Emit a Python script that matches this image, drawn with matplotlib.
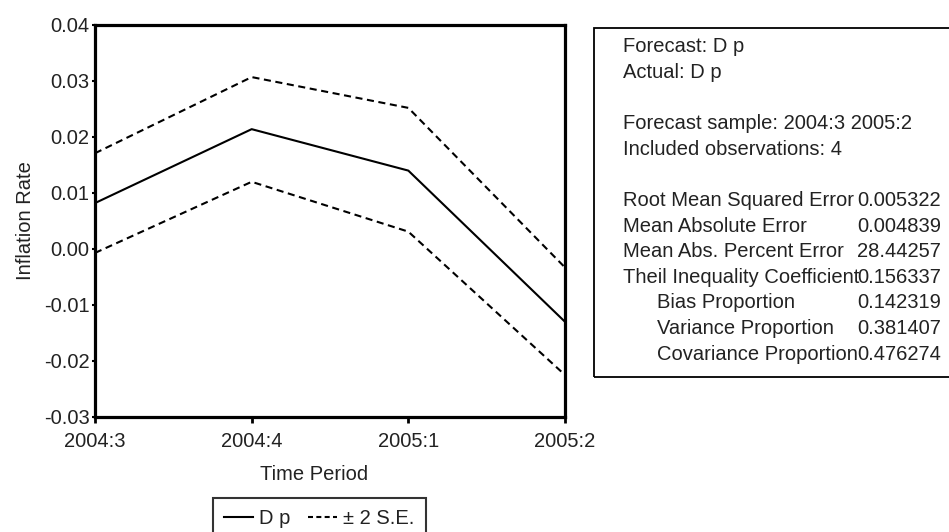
import matplotlib
matplotlib.use("Agg")
import matplotlib.pyplot as plt
from matplotlib.patches import Rectangle
from matplotlib.lines import Line2D

# Forecast of inflation (D p) with +/- 2 standard-error bands
periods = ["2004:3", "2004:4", "2005:1", "2005:2"]
forecast = [0.0082, 0.0214, 0.0140, -0.0130]
upper_band = [0.0171, 0.0307, 0.0252, -0.0033]
lower_band = [-0.0007, 0.0120, 0.0031, -0.0225]

y_ticks = [-0.03, -0.02, -0.01, 0.00, 0.01, 0.02, 0.03, 0.04]
y_tick_labels = ["-0.03", "-0.02", "-0.01", "0.00", "0.01", "0.02", "0.03", "0.04"]

# Forecast evaluation statistics
header_lines = ["Forecast: D p", "Actual: D p", "",
                "Forecast sample: 2004:3 2005:2", "Included observations: 4", ""]
stat_names = ["Root Mean Squared Error", "Mean Absolute Error",
              "Mean Abs. Percent Error", "Theil Inequality Coefficient",
              "Bias Proportion", "Variance Proportion", "Covariance Proportion"]
stat_values = ["0.005322", "0.004839", "28.44257", "0.156337",
               "0.142319", "0.381407", "0.476274"]
stat_indent = [False, False, False, False, True, True, True]

plt.rcParams["font.family"] = ["Liberation Sans", "DejaVu Sans"]
FS = 14.5
W, H = 949, 532
fig = plt.figure(figsize=(W / 100, H / 100), dpi=100)
fig.patch.set_facecolor("white")

def fx(px):
    return px / W

def fy(py):
    return 1 - py / H

ax = fig.add_axes([fx(95), fy(417), fx(565) - fx(95), fy(25) - fy(417)])
x = list(range(len(periods)))
dash = (0, (3.4, 2.2))
ax.plot(x, forecast, color="black", lw=1.5)
ax.plot(x, upper_band, color="black", lw=1.5, linestyle=dash)
ax.plot(x, lower_band, color="black", lw=1.5, linestyle=dash)

ax.set_xlim(0, len(periods) - 1)
ax.set_ylim(-0.03, 0.04)
ax.set_xticks(x)
ax.set_xticklabels(periods)
ax.set_yticks(y_ticks)
ax.set_yticklabels(y_tick_labels)

for s in ax.spines.values():
    s.set_linewidth(2.3)
    s.set_color("black")

txt_color = "#222222"
ax.tick_params(axis="x", length=4.5, width=2, direction="out", pad=6,
               labelsize=FS, labelcolor=txt_color)
ax.tick_params(axis="y", length=2, width=1.5, direction="out", pad=2,
               labelsize=FS, labelcolor=txt_color)

ax.set_ylabel("Inflation Rate", fontsize=FS, color=txt_color)
ax.yaxis.set_label_coords(-0.128, 0.5)
ax.set_xlabel("Time Period", fontsize=FS, color=txt_color)
ax.xaxis.set_label_coords((314 - 95) / (565 - 95), -0.122)

# Legend (its frame runs past the bottom edge of the figure)
handles = [Line2D([], [], color="black", lw=1.5),
           Line2D([], [], color="black", lw=1.5, linestyle=(0, (2.4, 1.6)))]
leg = fig.legend(handles, ["D p", "± 2 S.E."], loc="upper left",
                 bbox_to_anchor=(fx(213), fy(498)), ncol=2, frameon=True,
                 fontsize=FS, handlelength=1.45, handletextpad=0.3,
                 columnspacing=0.85, borderpad=0.55, borderaxespad=0,
                 fancybox=False, edgecolor="black")
leg.get_frame().set_linewidth(1.5)
for t in leg.get_texts():
    t.set_color(txt_color)

# Statistics box
box = Rectangle((fx(594), fy(377)), fx(980) - fx(594), fy(28) - fy(377),
                transform=fig.transFigure, fill=False, edgecolor="black",
                lw=1.3, clip_on=False)
fig.patches.append(box)

line_step = 25.6
y0 = 47
row = 0
for line in header_lines:
    if line:
        fig.text(fx(623), fy(y0 + row * line_step), line, fontsize=FS,
                 color=txt_color, va="center", ha="left")
    row += 1
for name, val, ind in zip(stat_names, stat_values, stat_indent):
    yy = fy(y0 + row * line_step)
    fig.text(fx(657 if ind else 623), yy, name, fontsize=FS,
             color=txt_color, va="center", ha="left")
    fig.text(fx(941), yy, val, fontsize=FS, color=txt_color,
             va="center", ha="right")
    row += 1

fig.savefig("out.png", dpi=100, facecolor="white")
